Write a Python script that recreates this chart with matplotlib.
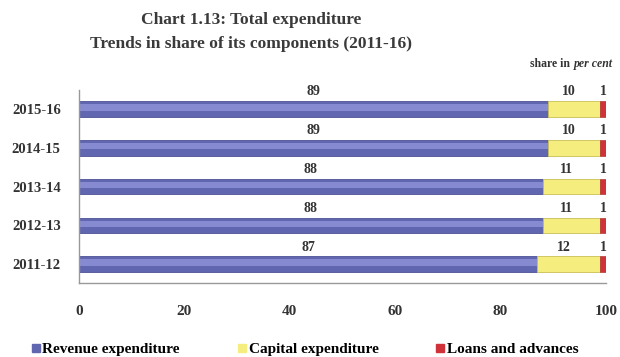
import numpy as np
import matplotlib
matplotlib.use('Agg')
import matplotlib.pyplot as plt
from matplotlib.lines import Line2D

# Share of total expenditure by component, in per cent
years = ['2011-12', '2012-13', '2013-14', '2014-15', '2015-16']
revenue = [87, 88, 88, 89, 89]
capital = [12, 11, 11, 10, 10]
loans = [1, 1, 1, 1, 1]

series_names = ['Revenue expenditure', 'Capital expenditure', 'Loans and advances']
x_ticks = [0, 20, 40, 60, 80, 100]

plt.rcParams['font.family'] = ['Liberation Serif', 'DejaVu Serif']
plt.rcParams['font.weight'] = 'bold'

BLUE = '#6166b0'
BLUE_HI = '#868bd1'
YELLOW = '#f5ee7e'
RED = '#d0323a'
TXT = '#333333'

fig = plt.figure(figsize=(6.2, 3.57), dpi=100)
ax = fig.add_axes([0.127, 0.207, 0.850, 0.541])

y = np.arange(len(years))
h = 0.40

rev = np.array(revenue)
cap = np.array(capital)
lon = np.array(loans)

ax.barh(y, rev, height=h, color=BLUE, edgecolor='#4f5296', linewidth=0.6)
# lighter band along the top of each revenue bar
ax.barh(y + h * 0.1, rev, height=h * 0.4, color=BLUE_HI, linewidth=0)
ax.barh(y, cap, left=rev, height=h, color=YELLOW, edgecolor='#c9bf55', linewidth=0.6)
ax.barh(y, lon, left=rev + cap, height=h, color=RED, edgecolor='#a82228', linewidth=0.4)

# value labels above each segment
for i in range(len(years)):
    ty = y[i] + h / 2 + 0.07
    ax.text(rev[i] / 2, ty, str(rev[i]), ha='center', va='bottom',
            fontsize=10, fontweight='bold', color=TXT)
    ax.text(rev[i] + cap[i] / 2 - 1, ty, str(cap[i]), ha='center', va='bottom',
            fontsize=10, fontweight='bold', color=TXT)
    ax.text(rev[i] + cap[i] + lon[i] / 2, ty, str(lon[i]), ha='center',
            va='bottom', fontsize=10, fontweight='bold', color=TXT)

ax.set_xlim(0, 100)
ax.set_ylim(-0.49, len(years) - 0.51)
ax.set_yticks(y)
ax.set_yticklabels(years, fontsize=10.5, fontweight='bold', color=TXT)
ax.set_xticks(x_ticks)
ax.set_xticklabels([str(t) for t in x_ticks], fontsize=11, fontweight='bold', color=TXT)
ax.tick_params(axis='x', length=0, pad=16)
ax.tick_params(axis='y', length=0, pad=13)

for s in ['top', 'right']:
    ax.spines[s].set_visible(False)
for s in ['left', 'bottom']:
    ax.spines[s].set_color('#999999')
    ax.spines[s].set_linewidth(1.0)

fig.text(0.405, 0.945, 'Chart 1.13: Total expenditure', ha='center', va='center',
         fontsize=12.5, fontweight='bold', color='#3a3a3a')
fig.text(0.405, 0.878, 'Trends in share of its components (2011-16)', ha='center', va='center',
         fontsize=12.5, fontweight='bold', color='#3a3a3a')
fig.text(0.925, 0.822, 'share in ', ha='right', va='center', fontsize=8.5,
         fontweight='bold', color=TXT)
fig.text(0.925, 0.822, 'per cent', ha='left', va='center', fontsize=8.5,
         fontweight='bold', style='italic', color=TXT)

handles = [Line2D([], [], marker='s', linestyle='none', markersize=6,
                  markerfacecolor=c, markeredgecolor=c)
           for c in [BLUE, YELLOW, RED]]
fig.legend(handles, series_names, loc='center', bbox_to_anchor=(0.49, 0.022),
           ncol=3, frameon=False, handletextpad=0.0, columnspacing=3.6,
           handlelength=0.9, prop={'size': 11, 'weight': 'bold'})

fig.savefig('out.png', dpi=100)
